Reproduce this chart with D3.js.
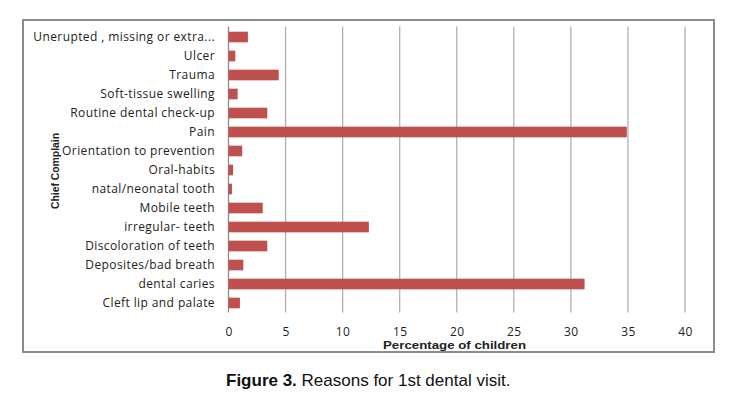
<!DOCTYPE html>
<html lang="en">
<head>
<meta charset="UTF-8">
<title>Reasons for 1st dental visit</title>
<script src="https://d3js.org/d3.v7.min.js"></script>
<style>
  body { margin: 0; background: #fff; }
  svg { display: block; }
</style>
</head>
<body>
<div id="chart"></div>
<script>
// categories listed bottom to top, as in the picture
const complaints = [
  "Cleft lip and palate",
  "dental caries",
  "Deposites/bad breath",
  "Discoloration of teeth",
  "irregular- teeth",
  "Mobile teeth",
  "natal/neonatal tooth",
  "Oral-habits",
  "Orientation to prevention",
  "Pain",
  "Routine dental check-up",
  "Soft-tissue swelling",
  "Trauma",
  "Ulcer",
  "Unerupted , missing or extra..."
];
const percentages = [1.0, 31.2, 1.3, 3.4, 12.3, 3.0, 0.3, 0.4, 1.2, 34.9, 3.4, 0.8, 4.4, 0.6, 1.7];
const xTicks = [0, 5, 10, 15, 20, 25, 30, 35, 40];

const W = 736, H = 397;
const plot = {left: 228.5, right: 685, top: 27.5, bottom: 312.5};

const svg = d3.select("#chart").append("svg")
    .attr("width", W)
    .attr("height", H);

// outer chart frame
svg.append("rect")
    .attr("x", 23).attr("y", 20)
    .attr("width", 691).attr("height", 332)
    .attr("fill", "none")
    .attr("stroke", "#8c8c8c")
    .attr("stroke-width", 2);

const x = d3.scaleLinear().domain([0, 40]).range([plot.left, plot.right]);
const y = d3.scaleBand()
    .domain(complaints.slice().reverse())
    .range([plot.top, plot.bottom])
    .paddingInner(0.44)
    .paddingOuter(0.22);

// vertical gridlines
svg.append("g")
    .selectAll("line")
    .data(xTicks)
    .enter().append("line")
    .attr("x1", d => x(d)).attr("x2", d => x(d))
    .attr("y1", plot.top - 1).attr("y2", plot.bottom)
    .attr("stroke", d => d === 0 ? "#8c8c8c" : "#b0b0b0")
    .attr("stroke-width", 1.3);

// bars
svg.append("g")
    .selectAll("rect")
    .data(percentages)
    .enter().append("rect")
    .attr("x", x(0))
    .attr("y", (d, i) => y(complaints[i]))
    .attr("width", d => x(d) - x(0))
    .attr("height", y.bandwidth())
    .attr("fill", "#c0504d");

// category labels
const yAxis = svg.append("g")
    .attr("transform", "translate(" + (plot.left - 13.5) + ",0)")
    .call(d3.axisLeft(y).tickSize(0).tickPadding(0));
yAxis.select(".domain").remove();
yAxis.selectAll("text")
    .attr("font-family", "'Open Sans', sans-serif")
    .attr("font-size", 12)
    .attr("letter-spacing", 0.4)
    .attr("fill", "#222");

// x tick labels
const xAxis = svg.append("g")
    .attr("transform", "translate(0," + plot.bottom + ")")
    .call(d3.axisBottom(x).tickValues(xTicks).tickSize(0).tickPadding(15));
xAxis.select(".domain").remove();
xAxis.selectAll("text")
    .attr("font-family", "'Open Sans', sans-serif")
    .attr("font-size", 12)
    .attr("letter-spacing", 0.4)
    .attr("fill", "#222");

// axis titles
svg.append("text")
    .attr("x", 383)
    .attr("y", 349)
    .attr("textLength", 143)
    .attr("lengthAdjust", "spacingAndGlyphs")
    .attr("font-family", "'Liberation Sans', Arial, sans-serif")
    .attr("font-weight", "bold")
    .attr("font-size", 10.5)
    .attr("fill", "#222")
    .text("Percentage of children");

svg.append("text")
    .attr("transform", "translate(59,209) rotate(-90)")
    .attr("textLength", 76)
    .attr("lengthAdjust", "spacingAndGlyphs")
    .attr("font-family", "'Liberation Sans', Arial, sans-serif")
    .attr("font-weight", "bold")
    .attr("font-size", 11)
    .attr("fill", "#222")
    .text("Chief Complain");

// figure caption
const cap = svg.append("text")
    .attr("x", 226)
    .attr("y", 386)
    .attr("font-family", "'Liberation Sans', Arial, sans-serif")
    .attr("font-size", 17)
    .attr("fill", "#111");
cap.append("tspan").attr("font-weight", "bold").text("Figure 3.");
cap.append("tspan").text(" Reasons for 1st dental visit.");
</script>
</body>
</html>
